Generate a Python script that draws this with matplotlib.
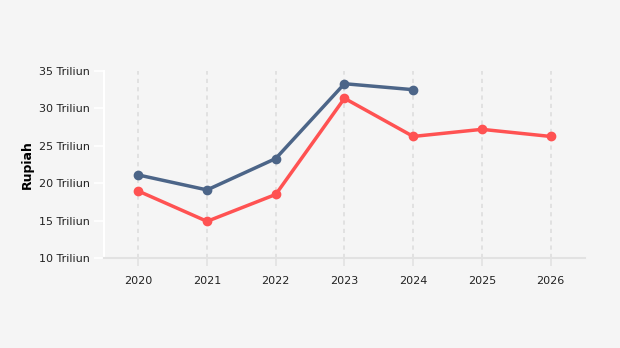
import numpy as np
import matplotlib.pyplot as plt

years = [2020, 2021, 2022, 2023, 2024, 2025, 2026]
blue_years = [2020, 2021, 2022, 2023, 2024]
blue_vals = [21.1, 19.1, 23.3, 33.3, 32.5]
red_vals = [18.95, 14.9, 18.5, 31.35, 26.25, 27.2, 26.25]
yticks = [10, 15, 20, 25, 30, 35]
ytick_labels = ['%d Triliun' % v for v in yticks]

bg = '#f5f5f5'
blue = '#4c6588'
red = '#ff5252'

fig = plt.figure(figsize=(6.2, 3.48), dpi=100, facecolor=bg)
ax = fig.add_axes([0.1677, 0.2586, 0.7758, 0.5374], facecolor=bg)

# dotted vertical grid
for x in years:
    ax.axvline(x, color='#dddddd', lw=1.2, ls=(0, (2.5, 2.5)), zorder=0)

ax.plot(years, red_vals, color=red, lw=2.5, marker='o', ms=6, zorder=3)
ax.plot(blue_years, blue_vals, color=blue, lw=2.5, marker='o', ms=6, zorder=4)

ax.set_xlim(2019.5, 2026.5)
ax.set_ylim(10, 35)
ax.set_xticks(years)
ax.set_xticklabels([str(y) for y in years], fontsize=8, color='#222222')
ax.set_yticks(yticks)
ax.set_yticklabels(ytick_labels, fontsize=8, color='#222222')
ax.tick_params(axis='y', length=7, width=1.2, color='white', pad=3)
ax.tick_params(axis='x', length=6, width=1.2, color='#e2e2e2', pad=7)

for s in ['top', 'right']:
    ax.spines[s].set_visible(False)
ax.spines['left'].set_color('white')
ax.spines['left'].set_linewidth(1.5)
ax.spines['bottom'].set_color('#e2e2e2')
ax.spines['bottom'].set_linewidth(1.5)

ax.set_ylabel('Rupiah', fontsize=9, fontweight='bold', labelpad=4)

fig.savefig('out.png', dpi=100, facecolor=bg)
